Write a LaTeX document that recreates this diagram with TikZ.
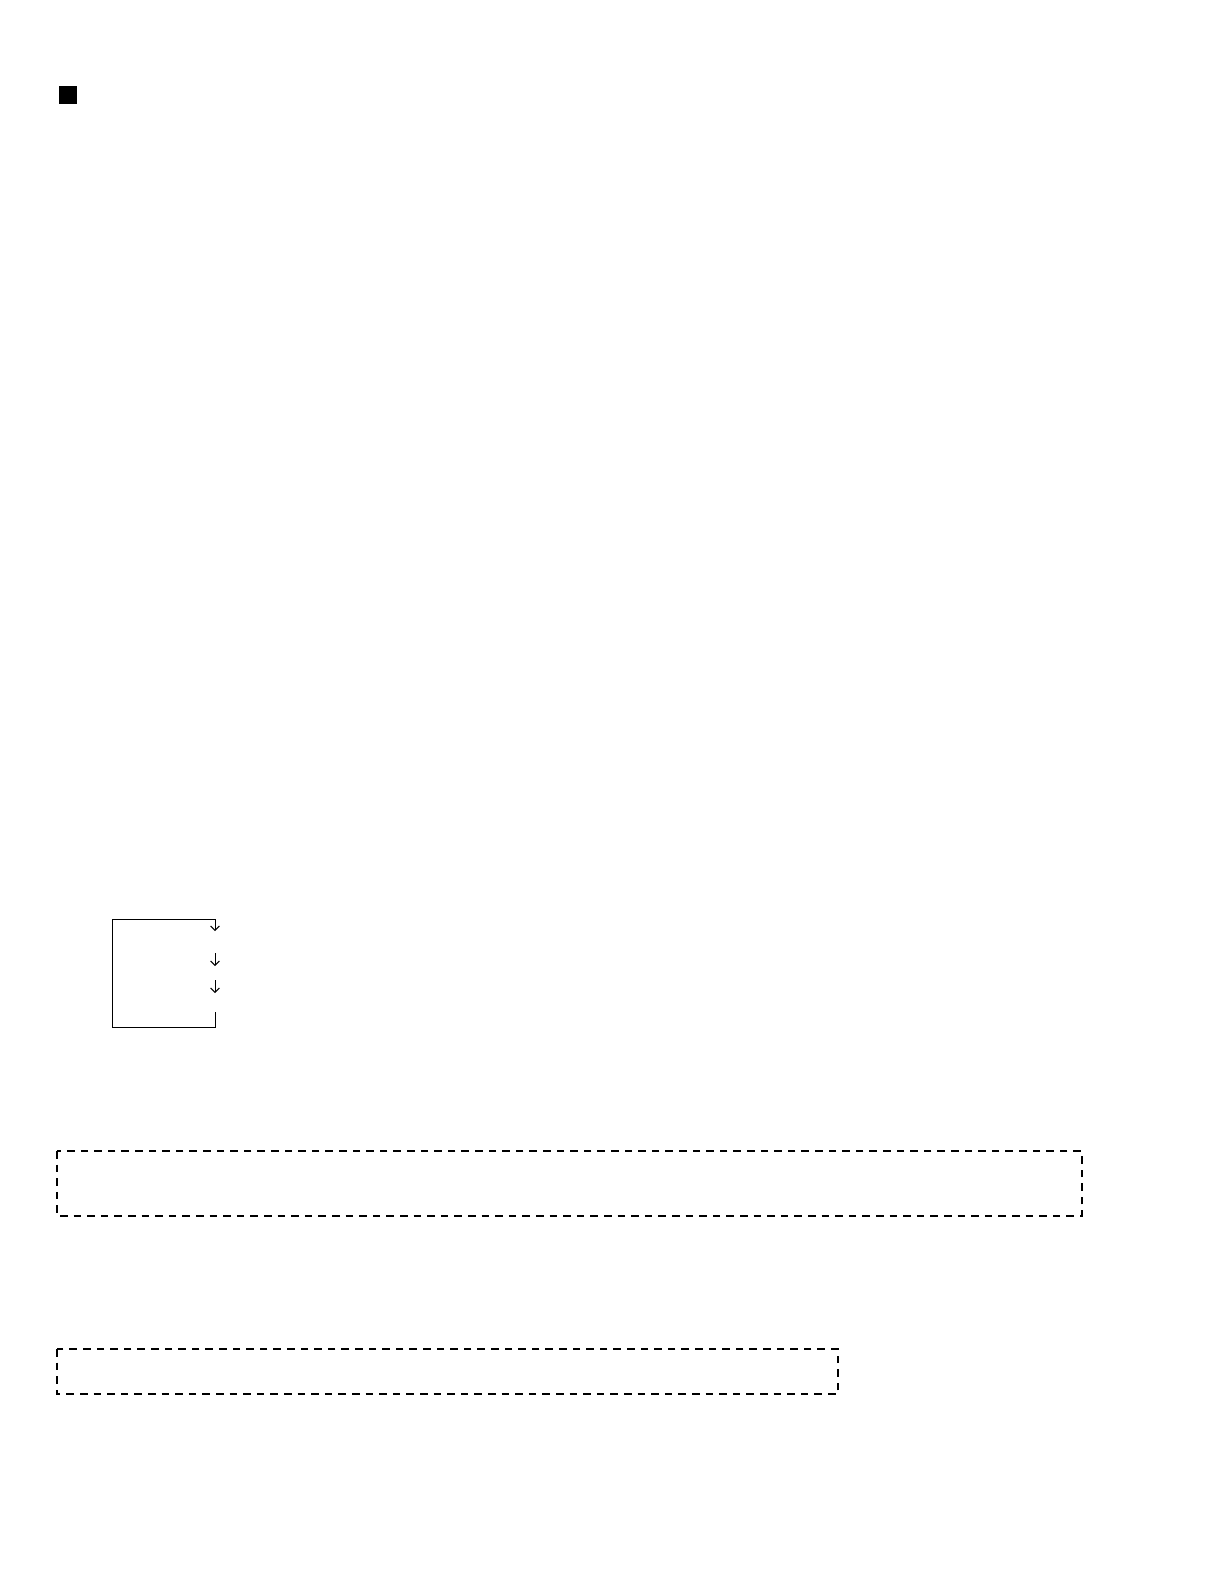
\documentclass[tikz,border=0pt]{standalone}
\usetikzlibrary{arrows.meta}
\begin{document}
\begin{tikzpicture}[x=0.5bp,y=-0.5bp,
  thinline/.style={line width=0.5bp},
  dashbox/.style={draw,line width=1.1bp,dash pattern=on 3.8bp off 3bp},
  smallarrow/.style={-{Straight Barb[length=2.2bp,width=4.4bp,line width=0.5bp]},line width=0.5bp}]
\useasboundingbox (0,0) rectangle (1224,1584);
% black square
\fill (59,86) rectangle (77,104);
\coordinate (sq) at (68,95);
% loop box
\coordinate (bl) at (112,1027);
\coordinate (tl) at (112,919);
\coordinate (tr) at (215,919);
\coordinate (a0) at (215,931);
\coordinate (br) at (215,1027);
\coordinate (bs) at (215,1012);
\draw[thinline] (bs) -- (br) -- (bl) -- (tl) -- (tr);
\draw[smallarrow] (tr) -- (a0);
\coordinate (a1s) at (215,953);
\coordinate (a1e) at (215,966);
\coordinate (a2s) at (215,980);
\coordinate (a2e) at (215,993);
\draw[smallarrow] (a1s) -- (a1e);
\draw[smallarrow] (a2s) -- (a2e);
% dashed boxes
\coordinate (d1a) at (57,1151);
\coordinate (d1b) at (1082,1216);
\draw[dashbox] (d1a) rectangle (d1b);
\coordinate (d2a) at (57,1349);
\coordinate (d2b) at (838,1394);
\draw[dashbox] (d2a) rectangle (d2b);
\end{tikzpicture}
\end{document}
